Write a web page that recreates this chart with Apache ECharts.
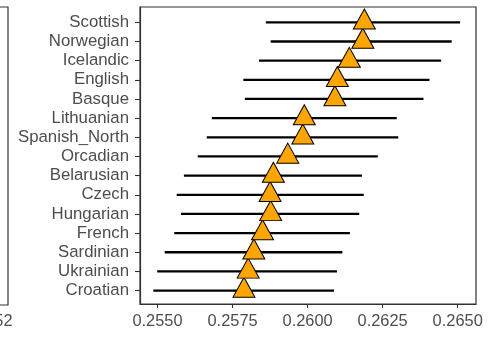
<!DOCTYPE html>
<html>
<head>
<meta charset="utf-8">
<script src="https://cdn.jsdelivr.net/npm/echarts@6/dist/echarts.min.js"></script>
<style>html,body{margin:0;padding:0;background:#fff;}#c{width:500px;height:338px;}</style>
</head>
<body>
<div id="c"></div>
<script>
// categories from bottom to top
const categories = ["Croatian","Ukrainian","Sardinian","French","Hungarian","Czech","Belarusian","Orcadian","Spanish_North","Lithuanian","Basque","English","Icelandic","Norwegian","Scottish"];
const estimates = [0.25788,0.25802,0.25821,0.25850,0.25877,0.25875,0.25886,0.25934,0.25984,0.25989,0.26091,0.26099,0.26139,0.26184,0.26189];
const lower = [0.25486,0.25499,0.25524,0.25556,0.25578,0.25564,0.25588,0.25634,0.25664,0.25681,0.25791,0.25786,0.25838,0.25877,0.25861];
const upper = [0.26088,0.26098,0.26116,0.26141,0.26172,0.26187,0.26181,0.26234,0.26302,0.26297,0.26386,0.26406,0.26445,0.26480,0.26508];
const xTicks = [0.2550,0.2575,0.2600,0.2625,0.2650];

const chart = echarts.init(document.getElementById('c'), null, {renderer:'canvas'});
const idx = categories.map((_, i) => i);
const font = '"Liberation Sans", Arial, sans-serif';
const option = {
  animation: false,
  backgroundColor: '#fff',
  grid: {left: 140, right: 24, top: 7, bottom: 34, show: true, borderColor: '#333', borderWidth: 1.2, backgroundColor: 'transparent'},
  xAxis: {
    type: 'value', min: 0.254417, max: 0.26561,
    axisLine: {show: true, onZero: false, lineStyle: {color: '#333', width: 1.2}},
    axisTick: {show: true, length: 4, customValues: xTicks, lineStyle: {color: '#333', width: 1.1}},
    axisLabel: {customValues: xTicks, formatter: v => v.toFixed(4), color: '#4D4D4D', fontSize: 16.4, fontFamily: font, margin: 9},
    splitLine: {show: false}
  },
  yAxis: {
    type: 'value', min: -0.7, max: 14.8,
    axisLine: {show: true, onZero: false, lineStyle: {color: '#333', width: 1.2}},
    axisTick: {show: true, length: 5, customValues: idx, lineStyle: {color: '#333', width: 1.1}},
    axisLabel: {customValues: idx, formatter: v => categories[Math.round(v)] || '', color: '#4D4D4D', fontSize: 16.8, fontFamily: font, margin: 11},
    splitLine: {show: false}
  },
  graphic: [
    {type: 'polyline', shape: {points: [[0, 7], [8, 7], [8, 305], [0, 305]]}, style: {stroke: '#333', lineWidth: 1.2, fill: null}},
    {type: 'text', left: -6, top: 313, style: {text: '0.252', fill: '#4D4D4D', font: '16.4px ' + font, textAlign: 'right'}, x: 12.5, y: 313, left: null, top: null}
  ],
  series: [
    {
      type: 'custom',
      data: categories.map((c, i) => [lower[i], upper[i], i]),
      encode: {x: [0, 1], y: 2},
      renderItem: (params, api) => {
        const p1 = api.coord([api.value(0), api.value(2)]);
        const p2 = api.coord([api.value(1), api.value(2)]);
        return {type: 'line', shape: {x1: p1[0], y1: p1[1], x2: p2[0], y2: p2[1]}, style: {stroke: '#000', lineWidth: 2.3}};
      },
      z: 2
    },
    {
      type: 'scatter',
      data: categories.map((c, i) => [estimates[i], i]),
      symbol: 'triangle',
      symbolSize: [22, 20],
      symbolOffset: [0, -3.3],
      itemStyle: {color: '#FFA500', borderColor: '#000', borderWidth: 1, opacity: 1},
      z: 3
    }
  ]
};
chart.setOption(option);
</script>
</body>
</html>
